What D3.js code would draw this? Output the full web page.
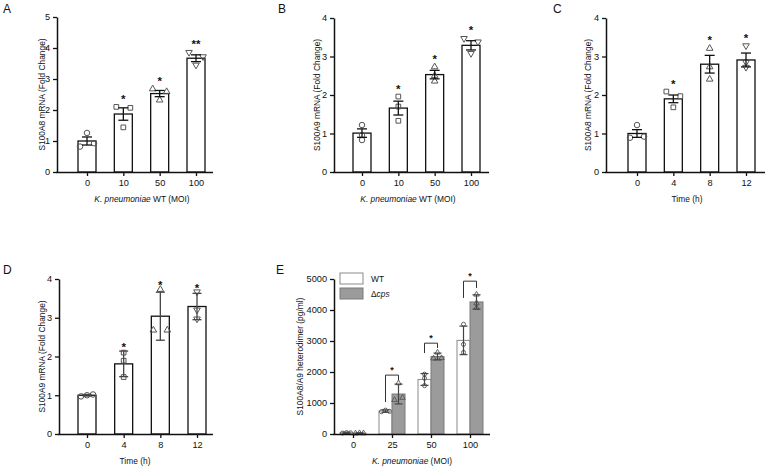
<!DOCTYPE html>
<html>
<head>
<meta charset="utf-8">
<script src="https://cdn.jsdelivr.net/npm/d3@7"></script>
<style>
  body { margin: 0; background: #fff; }
  svg { display: block; }
</style>
</head>
<body>
<div id="fig"></div>
<script>
// ---- data ----
const doseLabels = ["0", "10", "50", "100"];
const timeLabels = ["0", "4", "8", "12"];
const elisaLabels = ["0", "25", "50", "100"];

// A: S100A8 mRNA vs MOI (mean +- SEM), points in [left, centre, right] order
const a8DoseMean = [1.0, 1.87, 2.53, 3.67];
const a8DoseErr = [0.13, 0.2, 0.1, 0.11];
const a8DosePts = [[0.82, 1.26, 0.93], [2.1, 1.44, 2.07], [2.68, 2.32, 2.59], [3.86, 3.45, 3.72]];
const a8DoseSig = ["", "*", "*", "**"];

// B: S100A9 mRNA vs MOI
const a9DoseMean = [1.01, 1.66, 2.53, 3.29];
const a9DoseErr = [0.11, 0.18, 0.11, 0.12];
const a9DosePts = [[1.22, 0.96, 0.83], [1.96, 1.7, 1.33], [2.73, 2.5, 2.36], [3.47, 3.08, 3.38]];
const a9DoseSig = ["", "*", "*", "*"];

// C: S100A8 mRNA vs time
const a8TimeMean = [1.0, 1.9, 2.8, 2.91];
const a8TimeErr = [0.1, 0.1, 0.23, 0.18];
const a8TimePts = [[0.89, 1.22, 0.92], [2.09, 1.68, 1.97], [3.21, 2.73, 2.41], [3.28, 2.85, 2.72]];
const a8TimeSig = ["", "*", "*", "*"];

// D: S100A9 mRNA vs time (mean +- SD)
const a9TimeMean = [1.0, 1.81, 3.04, 3.29];
const a9TimeErr = [0.02, 0.33, 0.62, 0.34];
const a9TimePts = [[0.97, 1.0, 1.02], [2.1, 1.89, 1.47], [2.68, 3.73, 2.68], [3.67, 3.2, 2.97]];
const a9TimeSig = ["", "*", "*", "*"];

// E: S100A8/A9 heterodimer (pg/ml), WT vs delta-cps
const wtMean = [40, 740, 1760, 3020];
const wtErr = [20, 40, 190, 460];
const wtPts = [[30, 45, 40], [720, 770, 730], [1930, 1800, 1560], [3540, 2890, 2630]];
const cpsMean = [25, 1290, 2500, 4260];
const cpsErr = [15, 320, 110, 230];
const cpsPts = [[20, 30, 25], [1100, 1640, 1170], [2440, 2630, 2450], [4500, 4220, 4070]];
const elisaSig = ["", "*", "*", "*"];
const bracketTop = [null, 1900, 2930, 4930];
const bracketWtEnd = [null, 1030, 2610, 4390];
const bracketCpsEnd = [null, 1740, 2775, 4710];

// ---- drawing ----
const FONT = "'Liberation Sans', Arial, Helvetica, sans-serif";
const INK = "#111";
const shapes = [d3.symbolCircle, d3.symbolSquare, d3.symbolTriangle, d3.symbolTriangle];

const svg = d3.select("#fig").append("svg")
  .attr("width", 767).attr("height", 468)
  .style("font-family", FONT);

function styleAxis(ax) {
  ax.attr("font-family", FONT).attr("font-size", 9.2);
  ax.select(".domain").attr("stroke", INK).attr("stroke-width", 1.5);
  ax.selectAll(".tick line").attr("stroke", INK).attr("stroke-width", 1.3);
  ax.selectAll(".tick text").attr("fill", INK);
}

function axesAndLabels(g, o, x, y) {
  const ya = g.append("g").call(d3.axisLeft(y).ticks(o.yTicks, "d").tickSize(4).tickSizeOuter(0));
  styleAxis(ya);
  const xa = g.append("g").attr("transform", "translate(0," + o.height + ")")
    .call(d3.axisBottom(x).tickSize(4).tickSizeOuter(0));
  styleAxis(xa);
  xa.select(".domain").remove();
  g.append("line")
    .attr("x1", -0.75).attr("x2", o.width)
    .attr("y1", o.height + 0.5).attr("y2", o.height + 0.5)
    .attr("stroke", INK).attr("stroke-width", 1.5);

  // y label
  g.append("text")
    .attr("transform", "translate(" + (-o.yLabelOff) + "," + (o.height / 2) + ") rotate(-90)")
    .attr("text-anchor", "middle").attr("dy", "0.35em")
    .attr("font-size", 8.4).attr("fill", INK)
    .text(o.yLabel);

  // x label (italic part + plain part)
  const xl = g.append("text")
    .attr("x", o.xLabelX).attr("y", o.height + 30)
    .attr("text-anchor", "middle").attr("font-size", 8.4).attr("fill", INK);
  if (o.xItalic) xl.append("tspan").attr("font-style", "italic").text(o.xItalic);
  xl.append("tspan").text(o.xPlain);

  // panel letter
  svg.append("text")
    .attr("x", o.letterX).attr("y", o.letterY)
    .attr("font-size", 12).attr("fill", INK)
    .text(o.letter);
}

function barPanel(o) {
  const g = svg.append("g").attr("transform", "translate(" + o.left + "," + o.top + ")");
  const y = d3.scaleLinear().domain([0, o.yMax]).range([o.height, 0]);
  const x = d3.scalePoint().domain(o.cats).range(o.xRange);
  const rows = o.cats.map((c, i) => ({ c, i, m: o.mean[i], e: o.err[i], pts: o.pts[i], sig: o.sig[i] }));

  g.selectAll("rect.bar").data(rows).join("rect")
    .attr("class", "bar")
    .attr("x", d => x(d.c) - o.barW / 2).attr("width", o.barW)
    .attr("y", d => y(d.m)).attr("height", d => o.height - y(d.m))
    .attr("fill", "#fff").attr("stroke", INK).attr("stroke-width", 1.3);

  // individual replicates
  rows.forEach(d => {
    d.pts.forEach((v, k) => {
      g.append("path")
        .attr("d", d3.symbol(shapes[d.i], d.i === 0 ? 24 : d.i === 1 ? 22 : 19)())
        .attr("transform", "translate(" + (x(d.c) + o.jitter[d.i][k]) + "," + y(v) + ")" + (d.i === 3 ? " rotate(180)" : ""))
        .attr("fill", "none").attr("stroke", "#555").attr("stroke-width", 1);
    });
  });

  // error bars
  const eb = g.selectAll("g.err").data(rows).join("g").attr("class", "err")
    .attr("stroke", o.errColor).attr("stroke-width", 1.3);
  eb.append("line")
    .attr("x1", d => x(d.c)).attr("x2", d => x(d.c))
    .attr("y1", d => y(d.m - d.e)).attr("y2", d => y(d.m + d.e));
  eb.append("line")
    .attr("x1", d => x(d.c) - o.capW / 2).attr("x2", d => x(d.c) + o.capW / 2)
    .attr("y1", d => y(d.m + d.e)).attr("y2", d => y(d.m + d.e));
  eb.append("line")
    .attr("x1", d => x(d.c) - o.capW / 2).attr("x2", d => x(d.c) + o.capW / 2)
    .attr("y1", d => y(d.m - d.e)).attr("y2", d => y(d.m - d.e));

  // significance stars
  g.selectAll("text.sig").data(rows.filter(d => d.sig)).join("text")
    .attr("class", "sig")
    .attr("x", d => x(d.c))
    .attr("y", d => y(Math.max(d.m + d.e, d3.max(d.pts))) - o.starOff)
    .attr("text-anchor", "middle").attr("font-size", 11.5).attr("font-weight", "bold")
    .attr("fill", INK)
    .text(d => d.sig);

  axesAndLabels(g, o, x, y);
}

const C3 = [-7, 0, 7], C0 = [0, 0, 0];

barPanel({
  letter: "A", letterX: 3, letterY: 13,
  left: 57, top: 17, width: 156, height: 155, yMax: 5, yTicks: 5,
  cats: doseLabels, xRange: [30, 139], barW: 18, capW: 10, errColor: INK,
  mean: a8DoseMean, err: a8DoseErr, pts: a8DosePts, sig: a8DoseSig,
  jitter: [C3, C3, C3, C3], starOff: 4,
  yLabel: "S100A8 mRNA (Fold Change)", yLabelOff: 15,
  xItalic: "K. pneumoniae", xPlain: " WT (MOI)", xLabelX: 85
});

barPanel({
  letter: "B", letterX: 278, letterY: 13,
  left: 334, top: 18, width: 155, height: 154, yMax: 4, yTicks: 4,
  cats: doseLabels, xRange: [28, 137], barW: 18, capW: 10, errColor: INK,
  mean: a9DoseMean, err: a9DoseErr, pts: a9DosePts, sig: a9DoseSig,
  jitter: [C0, C0, C0, C3], starOff: 4,
  yLabel: "S100A9 mRNA (Fold Change)", yLabelOff: 17,
  xItalic: "K. pneumoniae", xPlain: " WT (MOI)", xLabelX: 74
});

barPanel({
  letter: "C", letterX: 553, letterY: 13,
  left: 606, top: 18, width: 159, height: 154, yMax: 4, yTicks: 4,
  cats: timeLabels, xRange: [31, 140], barW: 18, capW: 10, errColor: INK,
  mean: a8TimeMean, err: a8TimeErr, pts: a8TimePts, sig: a8TimeSig,
  jitter: [C3, C3, C0, C0], starOff: 4,
  yLabel: "S100A8 mRNA (Fold Change)", yLabelOff: 18,
  xItalic: "", xPlain: "Time (h)", xLabelX: 81
});

barPanel({
  letter: "D", letterX: 3, letterY: 274,
  left: 59, top: 279, width: 154, height: 155, yMax: 4, yTicks: 4,
  cats: timeLabels, xRange: [28, 138], barW: 18, capW: 9, errColor: "#444",
  mean: a9TimeMean, err: a9TimeErr, pts: a9TimePts, sig: a9TimeSig,
  jitter: [[-6, 0, 6], C0, C3, C0], starOff: 0,
  yLabel: "S100A9 mRNA (Fold Change)", yLabelOff: 17,
  xItalic: "", xPlain: "Time (h)", xLabelX: 76
});

// ---- panel E: grouped bars ----
(function () {
  const o = {
    letter: "E", letterX: 276, letterY: 274,
    left: 334, top: 279, width: 156, height: 155, yTicks: 5,
    yLabel: "S100A8/A9 heterodimer (pg/ml)", yLabelOff: 34,
    xItalic: "K. pneumoniae", xPlain: " (MOI)", xLabelX: 78
  };
  const g = svg.append("g").attr("transform", "translate(" + o.left + "," + o.top + ")");
  const y = d3.scaleLinear().domain([0, 5000]).range([o.height, 0]);
  const x = d3.scalePoint().domain(elisaLabels).range([19, 136]);
  const xs = d3.scaleBand().domain(["WT", "cps"]).range([-13, 13]);

  const series = [
    { key: "WT", mean: wtMean, err: wtErr, pts: wtPts, fill: "#fff", stroke: "#8a8a8a", sym: d3.symbolCircle,
      jitter: [[-4, 0, 4], [-4, 0, 4], C0, C0] },
    { key: "cps", mean: cpsMean, err: cpsErr, pts: cpsPts, fill: "#9b9b9b", stroke: "#7a7a7a", sym: d3.symbolTriangle,
      jitter: [[-4, 0, 4], [-4, 0, 4], [-4, 0, 4], C0] }
  ];

  series.forEach(s => {
    const rows = elisaLabels.map((c, i) => ({ c, i, m: s.mean[i], e: s.err[i], pts: s.pts[i] }));
    const cx = d => x(d.c) + xs(s.key) + xs.bandwidth() / 2;
    g.selectAll("rect.b" + s.key).data(rows).join("rect")
      .attr("x", d => x(d.c) + xs(s.key)).attr("width", xs.bandwidth())
      .attr("y", d => y(d.m)).attr("height", d => o.height - y(d.m))
      .attr("fill", s.fill).attr("stroke", s.stroke).attr("stroke-width", 1);
    rows.forEach(d => {
      d.pts.forEach((v, k) => {
        g.append("path")
          .attr("d", d3.symbol(s.sym, 13)())
          .attr("transform", "translate(" + (cx(d) + s.jitter[d.i][k]) + "," + y(v) + ")")
          .attr("fill", "none").attr("stroke", "#555").attr("stroke-width", 0.9);
      });
    });
    const eb = g.selectAll("g.e" + s.key).data(rows).join("g")
      .attr("stroke", "#444").attr("stroke-width", 1.2);
    eb.append("line").attr("x1", cx).attr("x2", cx)
      .attr("y1", d => y(Math.max(0, d.m - d.e))).attr("y2", d => y(d.m + d.e));
    eb.append("line").attr("x1", d => cx(d) - 4).attr("x2", d => cx(d) + 4)
      .attr("y1", d => y(d.m + d.e)).attr("y2", d => y(d.m + d.e));
    eb.append("line").attr("x1", d => cx(d) - 4).attr("x2", d => cx(d) + 4)
      .attr("y1", d => y(Math.max(0, d.m - d.e))).attr("y2", d => y(Math.max(0, d.m - d.e)));
  });

  // significance brackets
  const brackets = elisaLabels.map((c, i) => ({ c, i, top: bracketTop[i], wt: bracketWtEnd[i], cps: bracketCpsEnd[i], sig: elisaSig[i] }))
    .filter(d => d.top !== null);
  const lx = d => x(d.c) + xs("WT") + xs.bandwidth() / 2;
  const rx = d => x(d.c) + xs("cps") + xs.bandwidth() / 2;
  g.selectAll("path.br").data(brackets).join("path")
    .attr("d", d => "M" + lx(d) + "," + y(d.wt) + "V" + y(d.top) + "H" + rx(d) + "V" + y(d.cps))
    .attr("fill", "none").attr("stroke", "#333").attr("stroke-width", 1);
  g.selectAll("text.sg").data(brackets).join("text")
    .attr("x", d => (lx(d) + rx(d)) / 2).attr("y", d => y(d.top) - 2)
    .attr("text-anchor", "middle").attr("font-size", 9).attr("font-weight", "bold").attr("fill", INK)
    .text(d => d.sig);

  // legend
  const leg = g.append("g").attr("transform", "translate(6,-6)");
  series.forEach((s, k) => {
    const row = leg.append("g").attr("transform", "translate(0," + (k * 15) + ")");
    row.append("rect").attr("width", 23).attr("height", 11)
      .attr("fill", s.fill).attr("stroke", s.stroke).attr("stroke-width", 1);
    const t = row.append("text").attr("x", 31).attr("y", 8.5).attr("font-size", 8.4).attr("fill", INK);
    if (s.key === "WT") t.text("WT");
    else { t.append("tspan").text("\u0394"); t.append("tspan").attr("font-style", "italic").text("cps"); }
  });

  axesAndLabels(g, o, x, y);
})();
</script>
</body>
</html>
